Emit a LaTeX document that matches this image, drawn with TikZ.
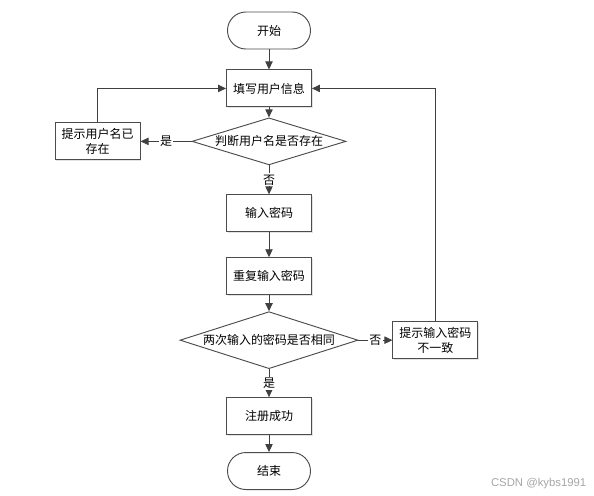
\documentclass[tikz,border=0pt]{standalone}
\usepackage{fontspec}
\setmainfont{Noto Sans CJK SC}
\newfontfamily\markfont{Liberation Sans}
\usepackage{xcolor}
\usetikzlibrary{positioning,arrows.meta,shapes.geometric,shadows}

\begin{document}
\begin{tikzpicture}[
  x=0.75pt, y=-0.75pt,
  font=\fontsize{9pt}{11pt}\selectfont,
  box/.style={draw=black!70, fill=white, line width=0.7pt, align=center,
              inner sep=3pt, minimum width=63.75pt, minimum height=27.75pt,
              drop shadow={shadow xshift=0.9pt, shadow yshift=-0.9pt, fill=black!22}},
  term/.style={draw=black!70, fill=white, line width=0.7pt, rounded corners=13.8pt,
               minimum width=62.25pt, minimum height=27.75pt},
  decide/.style={draw=black!70, fill=white, line width=0.7pt, diamond, aspect=3.2,
                 inner sep=0pt},
  lbl/.style={fill=white, inner sep=1pt},
  arr/.style={-{Triangle[length=6pt,width=5.5pt]}, draw=black!75, line width=0.7pt}]

\useasboundingbox (0,0) rectangle (594,496);

\node[term] (start) at (269,30.5) {开始};
\node[box, below=15pt of start] (info) {填写用户信息};
\node[decide, minimum width=115.5pt, minimum height=35.25pt,
      below=7.5pt of info] (chk) {判断用户名是否存在};
\node[box, left=38.25pt of chk] (exist) {提示用户名已\\存在};
\node[box, below=21.75pt of chk] (pwd) {输入密码};
\node[box, below=18.75pt of pwd] (pwd2) {重复输入密码};
\node[decide, minimum width=133.5pt, minimum height=42.75pt,
      below=12pt of pwd2] (cmp) {两次输入的密码是否相同};
\node[box, right=25.5pt of cmp] (diff) {提示输入密码\\不一致};
\node[box, below=21pt of cmp] (ok) {注册成功};
\node[term, below=12.75pt of ok] (stop) {结束};

\node[text=black!35, font=\markfont\fontsize{8.5pt}{10pt}\selectfont,
      anchor=east] (mark) at (591,484) {CSDN @kybs1991};

\draw[arr] (start) -- (info);
\draw[arr] (info) -- (chk);
\draw[arr] (chk) -- node[lbl] {是} (exist);
\draw[arr] (chk) -- node[lbl] {否} (pwd);
\draw[arr] (exist.north) |- (info.west);
\foreach \a/\b in {pwd/pwd2,pwd2/cmp,ok/stop}
  \draw[arr] (\a) -- (\b);
\draw[arr] (cmp) -- node[lbl] {否} (diff);
\draw[arr] (cmp) -- node[lbl] {是} (ok);
\draw[arr] (diff.north) |- (info.east);

\end{tikzpicture}
\end{document}
